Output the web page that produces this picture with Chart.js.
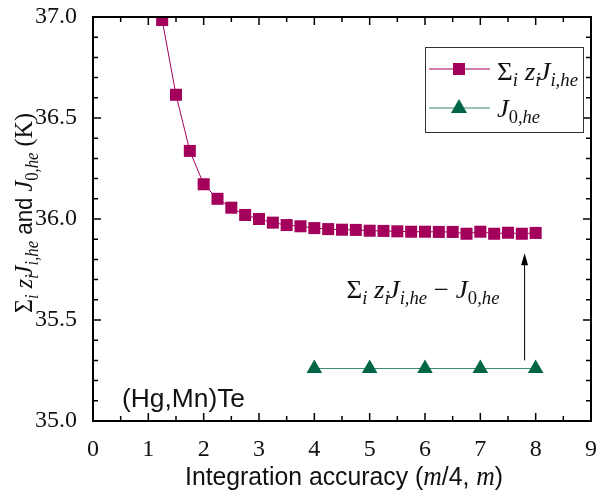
<!DOCTYPE html>
<html>
<head>
<meta charset="utf-8">
<script src="https://cdn.jsdelivr.net/npm/chart.js@4.4.1/dist/chart.umd.min.js"></script>
<style>
  html, body { margin: 0; padding: 0; background: #fff; }
  #wrap { width: 600px; height: 491px; }
</style>
</head>
<body>
<div id="wrap"><canvas id="chart" width="600" height="491"></canvas></div>
<script>
// integration accuracy (m/4, m) and the two exchange sums (K)
const accuracy = [1.25, 1.5, 1.75, 2.0, 2.25, 2.5, 2.75, 3.0, 3.25, 3.5, 3.75, 4.0, 4.25, 4.5,
  4.75, 5.0, 5.25, 5.5, 5.75, 6.0, 6.25, 6.5, 6.75, 7.0, 7.25, 7.5, 7.75, 8.0]
const sumJ = [36.985, 36.615, 36.337, 36.172, 36.10, 36.056, 36.02, 36.0, 35.982, 35.970, 35.964,
  35.955, 35.950, 35.947, 35.946, 35.942, 35.941, 35.939, 35.937, 35.937, 35.936, 35.936,
  35.927, 35.937, 35.927, 35.932, 35.927, 35.931]
const j0Accuracy = [4, 5, 6, 7, 8]
const j0Values = [35.26, 35.26, 35.26, 35.26, 35.26]
const xTicks = [0, 1, 2, 3, 4, 5, 6, 7, 8, 9]
const yTicks = [35.0, 35.5, 36.0, 36.5, 37.0]

const SERIF = '"Liberation Serif", "DejaVu Serif", serif'
const SANS = '"Liberation Sans", Arial, sans-serif'
const PURPLE = '#a2005a'
const GREEN = '#006647'
const GREEN_LINE = '#3a8a6c'

const big = `26px ${SERIF}`
const bigI = `italic 26px ${SERIF}`
const subI = `italic 18px ${SERIF}`
const sub = `18px ${SERIF}`

const sumParts = [
  { t: 'Σ', f: big },
  { t: 'i', f: subI, dy: 6 },
  { t: ' z', f: bigI },
  { t: 'i', f: subI, dy: 6, k: -2 },
  { t: 'J', f: bigI },
  { t: 'i,he', f: subI, dy: 6 },
]
const j0Parts = [
  { t: 'J', f: bigI },
  { t: '0', f: sub, dy: 6 },
  { t: ',he', f: subI, dy: 6 },
]

function richWidth(ctx, parts) {
  let w = 0
  for (const p of parts) { ctx.font = p.f; w += ctx.measureText(p.t).width + (p.k || 0) }
  return w
}
function drawRich(ctx, parts, x, y) {
  let cx = x
  for (const p of parts) {
    ctx.font = p.f
    ctx.fillText(p.t, cx, y + (p.dy || 0))
    cx += ctx.measureText(p.t).width + (p.k || 0)
  }
  return cx - x
}
// draw parts squeezed to a given width
function drawFit(ctx, parts, x, y, width, align) {
  const w = richWidth(ctx, parts)
  const s = width / w
  ctx.save()
  ctx.translate(align === 'center' ? x - width / 2 : x, y)
  ctx.scale(s, 1)
  drawRich(ctx, parts, 0, 0)
  ctx.restore()
}

const decor = {
  id: 'decor',
  afterDraw(chart) {
    const { ctx, chartArea: a, scales: { x, y } } = chart
    ctx.save()
    ctx.strokeStyle = '#000'
    ctx.fillStyle = '#111'
    ctx.textBaseline = 'alphabetic'
    ctx.textAlign = 'left'

    // frame and inward ticks on all sides
    ctx.lineWidth = 2
    ctx.strokeRect(a.left, a.top, a.right - a.left, a.bottom - a.top)
    ctx.lineWidth = 1.5
    ctx.beginPath()
    for (let k = 0; k <= 18; k++) {
      const px = x.getPixelForValue(k * 0.5), len = k % 2 ? 5 : 8
      ctx.moveTo(px, a.bottom); ctx.lineTo(px, a.bottom - len)
      ctx.moveTo(px, a.top); ctx.lineTo(px, a.top + len)
    }
    for (let k = 0; k <= 20; k++) {
      const py = y.getPixelForValue(35 + k * 0.1), len = k % 5 ? 5 : 8
      ctx.moveTo(a.left, py); ctx.lineTo(a.left + len, py)
      ctx.moveTo(a.right, py); ctx.lineTo(a.right - len, py)
    }
    ctx.stroke()

    // legend
    ctx.lineWidth = 1
    ctx.strokeStyle = '#333'
    ctx.strokeRect(425.5, 47.5, 158, 85)
    ctx.strokeStyle = PURPLE
    ctx.beginPath(); ctx.moveTo(429, 69); ctx.lineTo(490, 69); ctx.stroke()
    ctx.fillStyle = PURPLE
    ctx.fillRect(453, 63, 12, 12)
    ctx.strokeStyle = GREEN_LINE
    ctx.beginPath(); ctx.moveTo(429, 108); ctx.lineTo(490, 108); ctx.stroke()
    ctx.fillStyle = GREEN
    ctx.beginPath(); ctx.moveTo(459, 99); ctx.lineTo(467, 113); ctx.lineTo(451, 113); ctx.closePath(); ctx.fill()
    ctx.fillStyle = '#111'
    drawFit(ctx, sumParts, 497, 80, 81)
    drawFit(ctx, j0Parts, 497, 117, 43)

    // annotation text and arrow
    const ax = x.getPixelForValue(7.8)
    const aTop = y.getPixelForValue(35.83), aBot = y.getPixelForValue(35.30)
    ctx.strokeStyle = '#000'
    ctx.beginPath(); ctx.moveTo(ax, aBot); ctx.lineTo(ax, aTop + 6); ctx.stroke()
    ctx.fillStyle = '#000'
    ctx.beginPath(); ctx.moveTo(ax, aTop); ctx.lineTo(ax + 3.5, aTop + 12); ctx.lineTo(ax - 3.5, aTop + 12); ctx.closePath(); ctx.fill()
    ctx.fillStyle = '#111'
    const tx = x.getPixelForValue(4.58), ty = y.getPixelForValue(35.609)
    drawFit(ctx, [...sumParts, { t: ' − ', f: big }, ...j0Parts], tx, ty, 153)

    // sample label
    drawFit(ctx, [{ t: '(Hg,Mn)Te', f: `26px ${SANS}` }], 122, 407, 123)

    // x title
    const xs = `26px ${SANS}`, xm = `italic 27px ${SERIF}`
    drawFit(ctx, [
      { t: 'Integration accuracy (', f: xs },
      { t: 'm', f: xm },
      { t: '/4, ', f: xs },
      { t: 'm', f: xm },
      { t: ')', f: xs },
    ], (a.left + a.right) / 2 + 2, 485, 318, 'center')

    // y title, rotated
    ctx.translate(32, 213)
    ctx.rotate(-Math.PI / 2)
    drawFit(ctx, [
      ...sumParts,
      { t: ' and ', f: `24px ${SANS}` },
      ...j0Parts,
      { t: ' (K)', f: big },
    ], 0, 0, 200, 'center')
    ctx.restore()
  }
}

new Chart(document.getElementById('chart'), {
  type: 'line',
  data: {
    datasets: [
      {
        label: 'sumJ',
        data: accuracy.map((v, i) => ({ x: v, y: sumJ[i] })),
        borderColor: PURPLE,
        borderWidth: 1,
        pointStyle: 'rect',
        pointRadius: 8.5,
        pointBorderWidth: 0,
        pointBackgroundColor: PURPLE,
        clip: 0,
      },
      {
        label: 'J0',
        data: j0Accuracy.map((v, i) => ({ x: v, y: j0Values[i] })),
        borderColor: GREEN_LINE,
        borderWidth: 1,
        pointStyle: 'triangle',
        pointRadius: 9,
        pointBorderWidth: 0,
        pointBackgroundColor: GREEN,
        clip: 0,
      },
    ],
  },
  options: {
    responsive: false,
    animation: false,
    layout: { padding: { top: 17, right: 8, left: 0, bottom: 0 } },
    plugins: { legend: { display: false }, tooltip: { enabled: false } },
    scales: {
      x: {
        type: 'linear', min: 0, max: 9,
        afterBuildTicks: s => { s.ticks = xTicks.map(v => ({ value: v })) },
        afterFit: s => { s.height = 70; s.paddingLeft = 0; s.paddingRight = 0 },
        grid: { display: false }, border: { display: false },
        ticks: { color: '#111', font: { family: SERIF, size: 24 }, padding: 6, callback: v => v, maxRotation: 0 },
      },
      y: {
        min: 35, max: 37,
        afterBuildTicks: s => { s.ticks = yTicks.map(v => ({ value: v })) },
        afterFit: s => { s.width = 93; s.paddingTop = 0; s.paddingBottom = 0 },
        grid: { display: false }, border: { display: false },
        ticks: { color: '#111', font: { family: SERIF, size: 24 }, padding: 8, callback: v => v.toFixed(1) },
      },
    },
  },
  plugins: [decor],
})
</script>
</body>
</html>
